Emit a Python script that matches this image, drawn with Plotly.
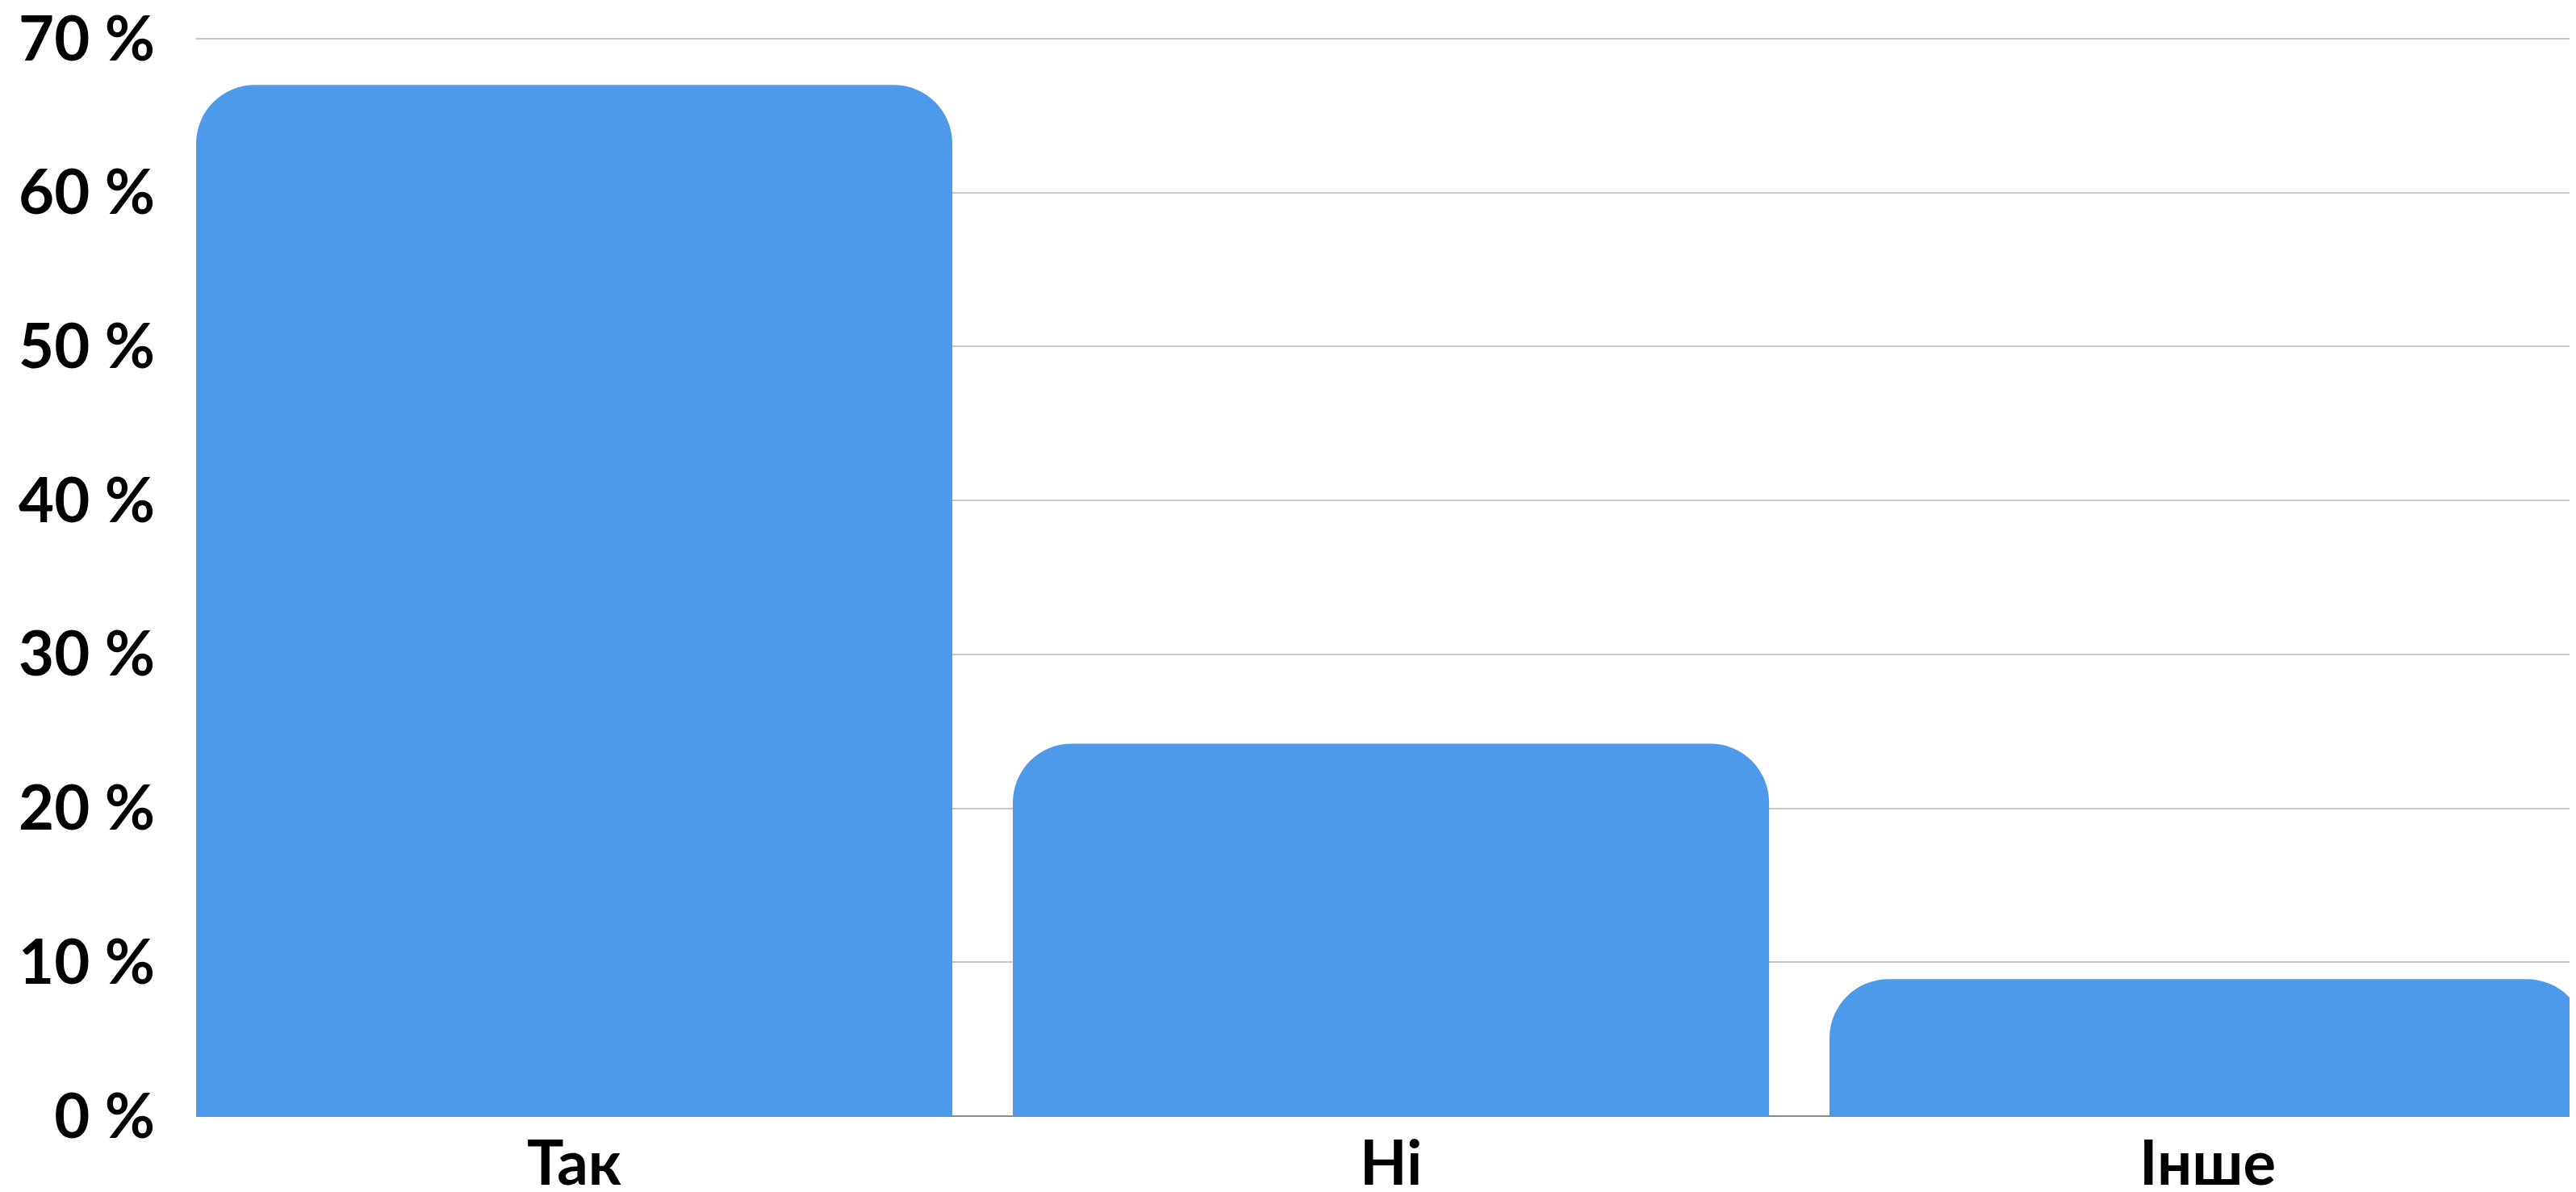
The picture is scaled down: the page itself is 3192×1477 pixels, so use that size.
import plotly.graph_objects as go

categories = ["Так", "Ні", "Інше"]
shares = [67.0, 24.2, 8.9]
y_ticks = [0, 10, 20, 30, 40, 50, 60, 70]
y_tick_labels = [f"{v} %" for v in y_ticks]

BAR_BLUE = "#4d9aea"
GRID_GREY = "#c8c8c8"
FONT = "Lato"

fig = go.Figure()
fig.add_trace(go.Bar(
    x=categories,
    y=shares,
    marker=dict(color=BAR_BLUE, line=dict(width=0)),
    hoverinfo="x+y",
))

# the page body adds an 8px offset, so the figure is 8px smaller than the window;
# y range goes a bit past 70 so its gridline is still drawn
fig.update_layout(
    width=3184,
    height=1469,
    margin=dict(l=235, r=0, t=31, b=94),
    plot_bgcolor="white",
    paper_bgcolor="white",
    bargap=0.074,
    barcornerradius=73,
    showlegend=False,
    font=dict(family=FONT, color="black"),
)
fig.update_xaxes(
    range=[-0.463, 2.451],
    automargin=False,
    showgrid=False,
    showline=False,
    zeroline=False,
    tickfont=dict(family=FONT, size=76, color="black", weight="bold"),
    ticklabelstandoff=8,
    ticklabeloverflow="allow",
)
fig.update_yaxes(
    range=[0, 70.47],
    automargin=False,
    tickmode="array",
    tickvals=y_ticks,
    ticktext=y_tick_labels,
    showgrid=True,
    gridcolor=GRID_GREY,
    gridwidth=2,
    zeroline=True,
    zerolinecolor="#8a8a8a",
    zerolinewidth=2,
    tickfont=dict(family=FONT, size=76, color="black", weight="bold"),
    ticklabelstandoff=50,
    ticklabeloverflow="allow",
)

fig.write_html("out.html")
